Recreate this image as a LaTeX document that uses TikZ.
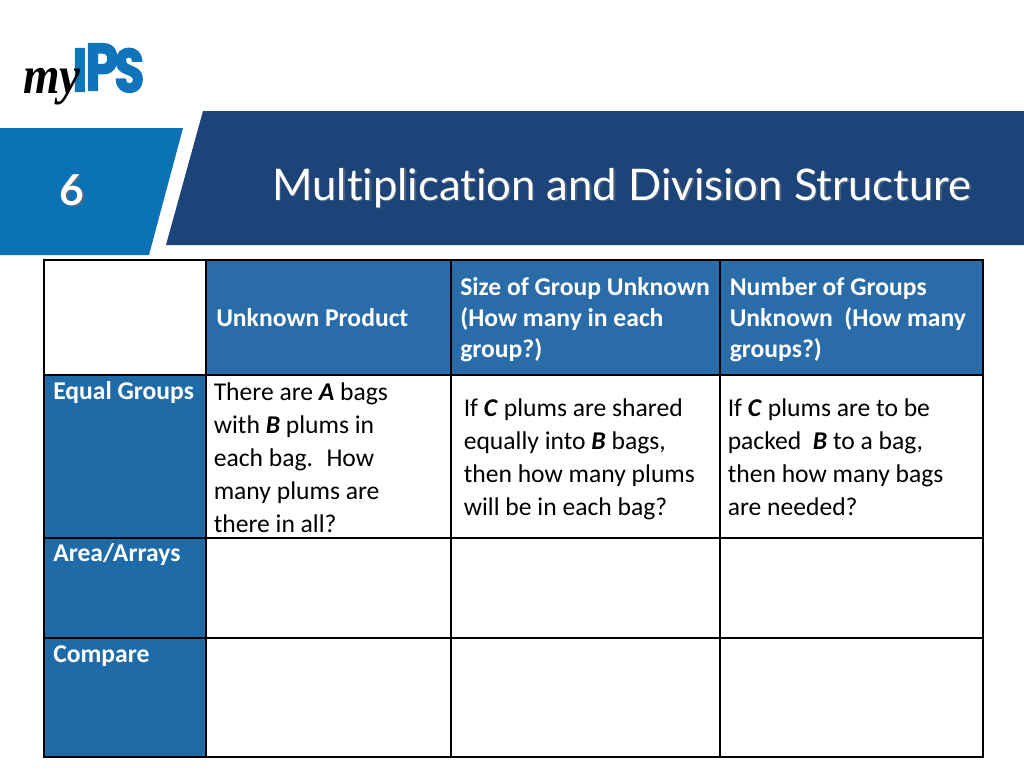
\documentclass[tikz,border=0pt]{standalone}
\usepackage{fontspec}
\setmainfont{Carlito}
\newfontfamily\titlefont[Ligatures=NoCommon]{Lato}
\newfontfamily\logofont[FakeBold=2.2]{Poppins}
\newfontfamily\myfont{Liberation Serif}
\definecolor{navy}{HTML}{1D4479}
\definecolor{tabblue}{HTML}{0B72B5}
\definecolor{headblue}{HTML}{296CA8}
\definecolor{sideblue}{HTML}{1F6BA8}
\definecolor{logoblue}{HTML}{0F74BA}
\definecolor{shadowgrey}{HTML}{5A6A80}
\tikzset{
  x=0.75pt,y=-0.75pt,
  grid/.style={draw=black,line width=1pt},
  body/.style={anchor=north west,inner sep=0pt,align=left,text=black,font=\fontsize{19.2}{24.75}\selectfont},
  head/.style={body,text=white,font=\fontsize{19.2}{23.25}\selectfont\bfseries},
  side/.style={body,text=white,font=\fontsize{19.2}{24}\selectfont\bfseries},
  logoletter/.style={anchor=base west,inner sep=0pt,text=logoblue,font=\logofont\bfseries\fontsize{46}{46}\selectfont},
}
\begin{document}
\begin{tikzpicture}
\useasboundingbox (0,0) rectangle (1024,768);
% banner
\fill[navy] (203,111) -- (1024,111) -- (1024,245) -- (166,245) -- cycle;
\fill[tabblue] (0,128) -- (183,128) -- (149,255) -- (0,255) -- cycle;
% logo
\node[logoletter,xscale=0.85] (logoI) at (72,91.5) {I};
\node[logoletter,xscale=0.8,font=\logofont\bfseries\fontsize{50}{50}\selectfont] (logoP) at (85,90.5) {P};
\node[logoletter,xscale=0.8] (logoS) at (114,92) {S};
\node[anchor=base west,inner sep=0pt,text=black,font=\myfont\itshape\bfseries\fontsize{40}{40}\selectfont,xscale=0.88] (my) at (23,93) {my};
% titles
\node[anchor=base west,inner sep=0pt,text=shadowgrey!70!navy,font=\titlefont\fontsize{32.7}{33}\selectfont] (titles) at (273.5,201.5) {Multiplication and Division Structure};
\node[anchor=base west,inner sep=0pt,text=white,font=\titlefont\fontsize{32.7}{33}\selectfont] (title) at (272,200) {Multiplication and Division Structure};
\node[anchor=base,inner sep=0pt,text=shadowgrey,font=\titlefont\bfseries\fontsize{32}{32}\selectfont] (sixs) at (73.5,206.5) {6};
\node[anchor=base,inner sep=0pt,text=white,font=\titlefont\bfseries\fontsize{32}{32}\selectfont] (six) at (72,205) {6};
% table fills
\fill[headblue] (206,260) rectangle (983,375);
\fill[sideblue] (44,375) rectangle (206,757);
% grid
\draw[grid] (44,260) rectangle (983,757);
\foreach \yy in {375,538,638} \draw[grid] (44,\yy) -- (983,\yy);
\foreach \xx in {206,451,720} \draw[grid] (\xx,260) -- (\xx,757);
% header
\node[head,anchor=base west] (h1) at (216,326) {Unknown Product};
\node[head] (h2) at (460,277.5) {Size of Group Unknown\\(How many in each\\group?)};
\node[head] (h3) at (729.5,277.5) {Number of Groups\\Unknown~ (How many\\groups?)};
% side
\node[side,anchor=base west] (s1) at (53,399) {Equal Groups};
\node[side,anchor=base west] (s2) at (53,561.5) {Area/Arrays};
\node[side,anchor=base west] (s3) at (53,662) {Compare};
% body
\node[body] (b1) at (213.5,382) {There are \textbf{\textit{A}} bags\\with \textbf{\textit{B}} plums in\\each bag.~ How\\many plums are\\there in all?};
\node[body] (b2) at (463.5,398) {If \textbf{\textit{C}} plums are shared\\equally into \textbf{\textit{B}} bags,\\then how many plums\\will be in each bag?};
\node[body] (b3) at (727.5,398) {If \textbf{\textit{C}} plums are to be\\packed~ \textbf{\textit{B}} to a bag,\\then how many bags\\are needed?};
\end{tikzpicture}
\end{document}
